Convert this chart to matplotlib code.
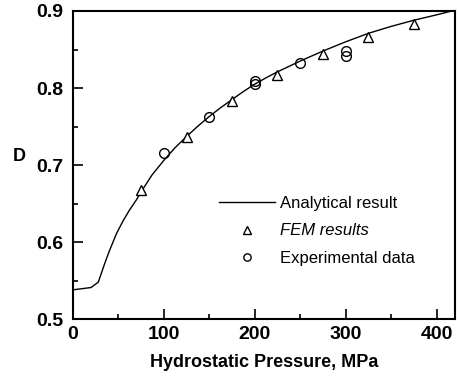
import matplotlib

matplotlib.use("Agg")
import matplotlib.pyplot as plt
from matplotlib.ticker import MultipleLocator

plt.rcParams["font.family"] = ["Liberation Sans", "DejaVu Sans"]

# analytical curve
CURVE_P = [0, 20, 28, 35, 40, 48, 55, 62, 70, 75, 87, 100, 112, 125, 137, 150,
           162, 175, 187, 200, 212, 225, 250, 275, 300, 325, 350, 375, 400, 420]
CURVE_D = [0.538, 0.541, 0.548, 0.572, 0.588, 0.611, 0.627, 0.641, 0.655,
           0.665, 0.687, 0.706, 0.722, 0.737, 0.750, 0.763, 0.774, 0.785,
           0.795, 0.805, 0.813, 0.821, 0.835, 0.848, 0.860, 0.871, 0.880,
           0.888, 0.895, 0.901]

FEM_P = [75, 125, 175, 225, 275, 325, 375]
FEM_D = [0.668, 0.737, 0.783, 0.817, 0.844, 0.866, 0.883]

EXP_P = [100, 150, 200, 200, 250, 300, 300]
EXP_D = [0.715, 0.763, 0.809, 0.805, 0.832, 0.848, 0.842]

fig = plt.figure(figsize=(4.58, 3.79), dpi=100)
ax = fig.add_axes([0.159, 0.158, 0.834, 0.813])

ax.plot(CURVE_P, CURVE_D, color="black", linewidth=1.0, label="Analytical result")
ax.plot(FEM_P, FEM_D, linestyle="none", marker="^", markersize=7,
        markerfacecolor="white", markeredgecolor="black", markeredgewidth=1.0,
        label="FEM results")
ax.plot(EXP_P, EXP_D, linestyle="none", marker="o", markersize=7,
        markerfacecolor="none", markeredgecolor="black", markeredgewidth=1.0,
        label="Experimental data")

ax.set_xlim(0, 420)
ax.set_ylim(0.5, 0.9)
ax.xaxis.set_major_locator(MultipleLocator(100))
ax.xaxis.set_minor_locator(MultipleLocator(50))
ax.yaxis.set_major_locator(MultipleLocator(0.1))
ax.yaxis.set_minor_locator(MultipleLocator(0.05))
ax.tick_params(which="both", direction="in", width=1.2, labelsize=14)
ax.tick_params(which="major", length=7)
ax.tick_params(axis="y", which="major", pad=7)
ax.tick_params(axis="x", which="major", pad=5)
ax.tick_params(which="minor", length=3.5)
for lab in ax.get_xticklabels() + ax.get_yticklabels():
    lab.set_fontweight("bold")
for sp in ax.spines.values():
    sp.set_linewidth(1.5)

ax.set_xlabel("Hydrostatic Pressure, MPa", fontsize=13, fontweight="bold", labelpad=8)
ax.set_ylabel("D", fontsize=13, fontweight="bold", rotation=0)
ax.yaxis.set_label_coords(-0.14, 0.5)

leg = ax.legend(loc="lower left", bbox_to_anchor=(0.382, 0.174), frameon=False,
                fontsize=12, handlelength=3.36, handletextpad=0.3,
                markerscale=0.75, labelspacing=0.73, borderpad=0, borderaxespad=0)
leg.get_texts()[1].set_style("italic")

fig.savefig("out.png")
